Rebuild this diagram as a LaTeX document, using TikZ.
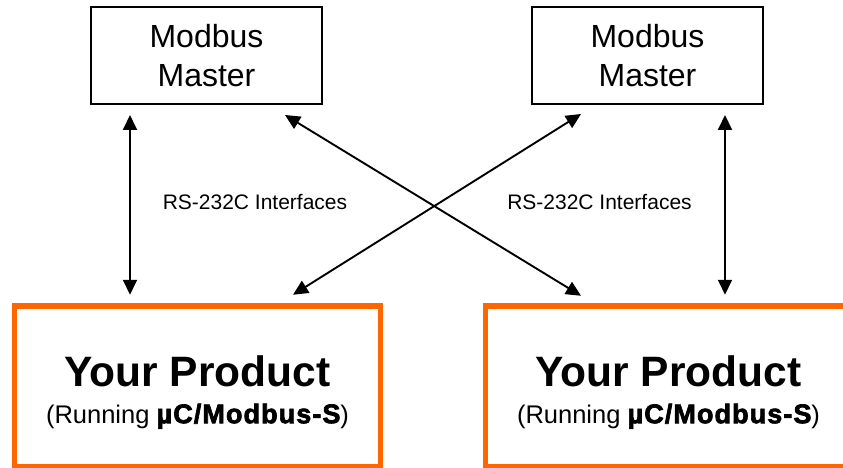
\documentclass[tikz,border=0pt]{standalone}
\usepackage{fontspec}
\setmainfont{Liberation Sans}
\newfontfamily\heavyfont{Liberation Sans Bold}[FakeBold=2.5,LetterSpace=4]
\usetikzlibrary{arrows.meta}
\definecolor{prodorange}{HTML}{FF6600}

\begin{document}
\begin{tikzpicture}[x=1pt,y=-1pt,>={Triangle[length=15pt,width=14pt]}]
				\tikzstyle{master} = [draw=black,line width=1.4pt,outer sep=0pt,inner sep=0pt,minimum width=231pt,minimum height=97pt,align=center,font=\fontsize{32}{39}\selectfont];
				\tikzstyle{product} = [draw=prodorange,line width=5.5pt,outer sep=0pt,inner sep=0pt,minimum width=366pt,minimum height=160.5pt,text height=80pt,align=center,font=\fontsize{42.5}{37}\selectfont\bfseries];
				\tikzstyle{iface} = [font=\fontsize{21}{24}\selectfont];
				\tikzstyle{link} = [<->,line width=1.9pt];
				\clip (0,0) rectangle (843,468);
				\node[master] (m1) at (206.5,55.5) {Modbus\\Master};
				\node[master] (m2) at (647.5,55.5) {Modbus\\Master};
				\node[product] (p1) at (197.5,386) {Your Product\\{\fontsize{25.5}{37}\selectfont\mdseries (Running {\heavyfont\fontsize{27}{37}\selectfont µC/Modbus-S})}};
				\node[product] (p2) at (668.5,386) {Your Product\\{\fontsize{25.5}{37}\selectfont\mdseries (Running {\heavyfont\fontsize{27}{37}\selectfont µC/Modbus-S})}};
				\node[iface] (i1) at (255,202) {RS-232C Interfaces};
				\node[iface] (i2) at (599.5,202) {RS-232C Interfaces};
				\draw[link] ([shift={(39,11)}]m1.south west) -- ([shift={(115.5,-11)}]p1.north west);
				\draw[link] ([shift={(-38,11)}]m2.south east) -- ([shift={(239.5,-11)}]p2.north west);
				\draw[link] ([shift={(-37,11)}]m1.south east) -- ([shift={(95.5,-10)}]p2.north west);
				\draw[link] ([shift={(-87.5,-11)}]p1.north east) -- ([shift={(49,10)}]m2.south west);
			\end{tikzpicture}
\end{document}
